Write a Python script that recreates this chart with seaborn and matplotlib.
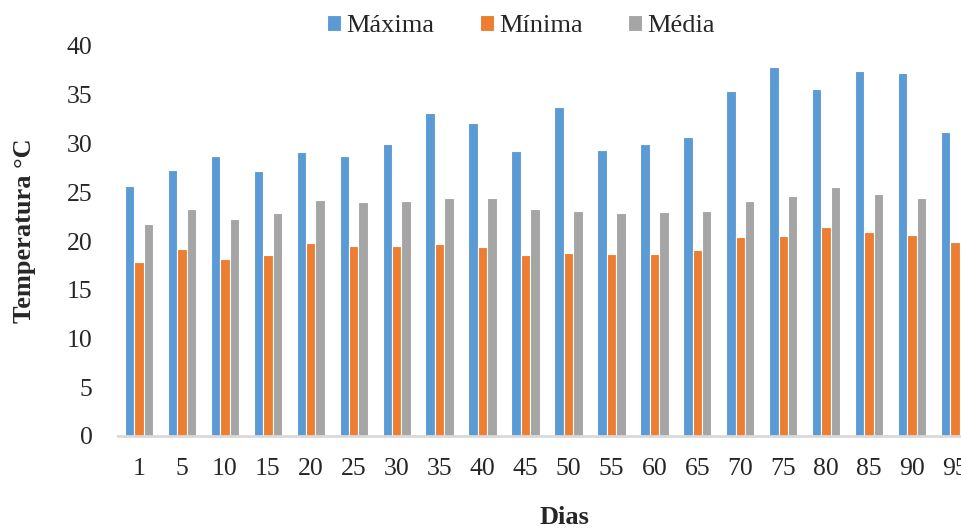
import matplotlib
matplotlib.use("Agg")
import matplotlib.pyplot as plt
import seaborn as sns
import pandas as pd

dias = ["1", "5", "10", "15", "20", "25", "30", "35", "40", "45",
        "50", "55", "60", "65", "70", "75", "80", "85", "90", "95"]
maxima = [25.6, 27.3, 28.7, 27.2, 29.1, 28.7, 29.9, 33.1, 32.1, 29.2,
          33.7, 29.3, 29.9, 30.7, 35.4, 37.8, 35.6, 37.4, 37.2, 31.2]
minima = [17.8, 19.2, 18.2, 18.6, 19.8, 19.5, 19.5, 19.7, 19.4, 18.6,
          18.8, 18.7, 18.7, 19.1, 20.4, 20.5, 21.4, 20.9, 20.6, 19.9]
media = [21.7, 23.3, 22.3, 22.9, 24.2, 24.0, 24.1, 24.4, 24.4, 23.3,
         23.1, 22.9, 23.0, 23.1, 24.1, 24.6, 25.5, 24.8, 24.4, 24.4]
series = ["Máxima", "Mínima", "Média"]
colors = ["#5B9BD5", "#ED7D31", "#A5A5A5"]

df = pd.DataFrame({
    "Dias": dias * 3,
    "Temp": maxima + minima + media,
    "Serie": [series[0]] * len(dias) + [series[1]] * len(dias) + [series[2]] * len(dias),
})

sns.set_theme(style="white")
plt.rcParams["font.family"] = ["Liberation Serif", "DejaVu Serif"]

fig = plt.figure(figsize=(9.62, 5.29), dpi=100)
ax = fig.add_axes([117.5 / 962, 1 - 436 / 529, 859 / 962, 390 / 529])

sns.barplot(data=df, x="Dias", y="Temp", hue="Serie", order=dias,
            hue_order=series, palette=colors, width=0.66,
            edgecolor="white", linewidth=0.8, saturation=1, ax=ax, legend=True)

ax.set_ylim(0, 40)
ax.set_yticks(range(0, 41, 5))
ax.set_xlim(-0.5, len(dias) - 0.5)
for s in ["top", "right", "left"]:
    ax.spines[s].set_visible(False)
ax.spines["bottom"].set_color("#d9d9d9")
ax.spines["bottom"].set_linewidth(2)
ax.tick_params(axis="both", length=0, labelsize=18.5)
ax.tick_params(axis="x", pad=16)
ax.tick_params(axis="y", pad=18)
ax.set_xlabel("")
ax.set_ylabel("")
ax.grid(False)

fig.text(25 / 962, 1 - 231 / 529, "Temperatura °C", rotation=90, ha="center",
         va="center", fontsize=19, fontweight="bold")
fig.text(565 / 962, 1 - 517 / 529, "Dias", ha="center", va="center",
         fontsize=19, fontweight="bold")

handles, labels = ax.get_legend_handles_labels()
ax.get_legend().remove()
fig.legend(handles, labels, loc="center", bbox_to_anchor=(521 / 962, 1 - 26 / 529),
           ncol=3, frameon=False, fontsize=19, handlelength=0.55, handleheight=0.55,
           handletextpad=0.2, columnspacing=1.7)

fig.savefig("out.png", dpi=100)
